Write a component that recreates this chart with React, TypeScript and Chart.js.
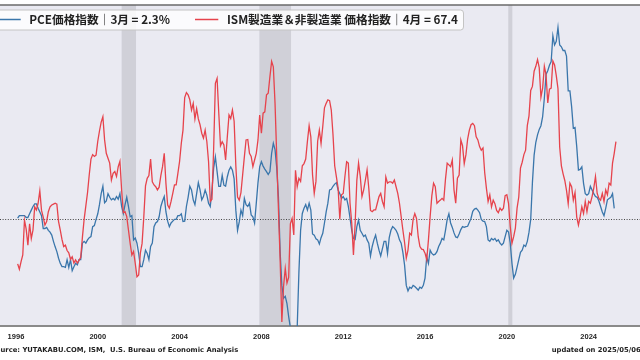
import React, { useEffect, useRef } from "react";
import { Chart, registerables } from "chart.js";

Chart.register(...registerables);

// ---- data (monthly, Jan 1996 onward) ----
const START_YEAR = 1996;

const pceValues = [
  // 1996
  2.03, 2.1, 2.1, 2.1, 2.1, 2.05, 2.05, 2.15, 2.25, 2.35, 2.42, 2.42,
  // 1997
  2.3, 2.2, 2.1, 1.75, 1.75, 1.78, 1.7, 1.65, 1.57, 1.4, 1.25, 1.12,
  // 1998
  0.94, 0.8, 0.71, 0.71, 0.69, 0.9, 0.69, 0.9, 0.6, 0.71, 0.8, 0.76,
  // 1999
  0.9, 0.9, 1.35, 1.4, 1.35, 1.44, 1.5, 1.53, 1.8, 1.83, 2.0, 2.15,
  // 2000
  2.4, 2.7, 2.9, 2.45, 2.5, 2.7, 2.6, 2.53, 2.57, 2.53, 2.62, 2.55,
  // 2001
  2.7, 2.35, 2.16, 2.4, 2.6, 2.35, 2.07, 2.1, 1.44, 1.49, 1.35, 1.07,
  // 2002
  0.71, 0.71, 0.9, 1.16, 1.07, 0.9, 1.26, 1.35, 1.8, 1.9, 1.94, 2.07,
  // 2003
  2.35, 2.5, 2.62, 2.2, 1.95, 1.8, 1.9, 1.95, 2.0, 2.0, 2.1, 2.1,
  // 2004
  2.15, 1.94, 1.95, 2.35, 2.6, 2.9, 2.8, 2.53, 2.4, 2.7, 3.0, 2.8,
  // 2005
  2.53, 2.62, 2.8, 2.66, 2.44, 2.35, 2.8, 3.4, 3.7, 3.3, 2.9, 2.9,
  // 2006
  3.2, 2.93, 2.9, 3.16, 3.34, 3.43, 3.34, 3.1, 2.25, 1.7, 1.93, 2.25,
  // 2007
  2.1, 2.57, 2.4, 2.35, 2.44, 2.12, 2.07, 1.9, 2.44, 3.0, 3.43, 3.57,
  // 2008
  3.45, 3.37, 3.3, 3.22, 3.3, 3.8, 4.07, 3.9, 3.4, 2.6, 1.1, 0.2,
  // 2009
  -0.15, -0.1, -0.3, -0.65, -0.95, -1.3, -1.4, -1.2, -0.95, 0.55, 1.7, 2.16,
  // 2010
  2.3, 2.4, 2.25, 2.44, 2.25, 1.6, 1.57, 1.47, 1.44, 1.33, 1.5, 1.62,
  // 2011
  1.9, 2.2, 2.44, 2.8, 2.82, 2.9, 2.96, 3.0, 2.8, 2.7, 2.57, 2.62,
  // 2012
  2.53, 2.57, 2.35, 2.03, 1.7, 1.48, 1.45, 1.8, 1.98, 1.7, 1.62, 1.53,
  // 2013
  1.57, 1.44, 1.35, 1.0, 1.26, 1.44, 1.57, 1.35, 1.16, 1.0, 1.2, 1.4,
  // 2014
  1.4, 1.07, 1.5, 1.7, 1.8, 1.76, 1.7, 1.6, 1.44, 1.35, 1.1, 0.75,
  // 2015
  0.2, 0.05, 0.15, 0.12, 0.2, 0.17, 0.12, 0.07, 0.15, 0.12, 0.2, 0.4,
  // 2016
  0.98, 0.8, 1.16, 1.07, 1.03, 1.05, 1.12, 1.26, 1.35, 1.48, 1.44, 1.7,
  // 2017
  2.0, 2.15, 1.9, 1.78, 1.63, 1.52, 1.5, 1.6, 1.72, 1.8, 1.78, 1.8,
  // 2018
  1.81, 1.92, 2.03, 2.22, 2.28, 2.3, 2.25, 2.18, 2.0, 1.95, 1.94, 1.8,
  // 2019
  1.44, 1.4, 1.48, 1.44, 1.48, 1.4, 1.44, 1.35, 1.3, 1.35, 1.53, 1.7,
  // 2020
  1.65, 1.35, 0.8, 0.4, 0.5, 0.7, 0.9, 1.1, 1.16, 1.3, 1.26, 1.4,
  // 2021
  1.65, 2.0, 3.0, 3.75, 4.1, 4.3, 4.45, 4.55, 4.8, 5.3, 5.95, 6.05,
  // 2022
  6.2, 6.3, 7.0, 6.75, 6.85, 7.23, 6.75, 6.7, 6.6, 6.6, 6.45, 5.5,
  // 2023
  5.5, 5.07, 4.48, 4.5, 3.98, 3.34, 3.36, 3.43, 2.98, 2.7, 2.66, 2.7,
  // 2024
  2.9, 2.8, 2.7, 2.62, 2.6, 2.5, 2.35, 2.2, 2.1, 2.3, 2.53, 2.57,
  // 2025
  2.6, 2.7, 2.3,
];

const ismValues = [
  // 1996
  40.0, 38.8, 40.5, 42.0, 49.8, 47.8, 44.2, 49.0, 45.7, 47.6, 52.8, 52.1,
  // 1997
  53.6, 56.4, 52.0, 50.5, 48.7, 49.5, 51.7, 52.8, 53.2, 53.4, 53.6, 53.4,
  // 1998
  49.5, 47.6, 45.5, 43.9, 44.2, 43.0, 42.5, 41.0, 41.6, 40.2, 40.9, 40.2,
  // 1999
  40.8, 41.5, 46.0, 50.0, 53.0, 56.0, 60.0, 63.5, 64.5, 64.1, 64.4, 67.5,
  // 2000
  69.8, 71.8, 73.0, 67.8, 64.8, 63.7, 62.6, 58.8, 60.3, 60.7, 59.6, 61.8,
  // 2001
  63.0, 56.5, 51.5, 51.7, 50.6, 47.6, 44.6, 42.0, 42.8, 40.1, 37.1, 37.5,
  // 2002
  42.5, 44.6, 50.5, 57.5, 59.2, 59.8, 63.5, 58.4, 57.7, 57.3, 56.6, 57.2,
  // 2003
  59.8, 61.8, 64.8, 58.0, 53.2, 52.5, 54.0, 55.8, 57.7, 57.7, 60.3, 63.0,
  // 2004
  67.0, 70.0, 77.3, 78.4, 77.9, 76.8, 74.5, 76.0, 72.5, 74.8, 72.5, 71.2,
  // 2005
  69.3, 68.2, 70.0, 67.4, 62.9, 54.0, 54.5, 66.0, 80.5, 81.6, 73.8, 66.5,
  // 2006
  67.4, 66.7, 63.3, 68.5, 73.4, 72.6, 74.5, 72.0, 62.0, 55.0, 54.3, 56.0,
  // 2007
  60.0, 64.0, 67.8, 67.9, 64.8, 64.1, 61.8, 63.3, 64.8, 67.8, 73.4, 69.3,
  // 2008
  73.8, 74.1, 77.9, 78.3, 82.0, 85.4, 84.2, 76.0, 64.1, 52.1, 40.9, 27.0,
  // 2009
  35.0, 39.0, 35.7, 37.0, 49.0, 50.2, 46.5, 61.0, 57.3, 59.2, 58.5, 62.0,
  // 2010
  62.5, 63.5, 67.5, 71.0, 68.5, 60.0, 55.8, 58.5, 67.5, 70.0, 67.0, 70.8,
  // 2011
  75.0, 76.0, 76.8, 76.6, 74.5, 69.0, 62.0, 59.5, 57.0, 50.0, 55.5, 55.8,
  // 2012
  59.6, 62.9, 62.6, 53.6, 49.1, 42.0, 49.0, 58.8, 62.6, 59.6, 55.1, 56.6,
  // 2013
  58.8, 61.1, 57.0, 52.0, 51.7, 52.1, 52.1, 53.6, 55.1, 55.8, 54.0, 52.8,
  // 2014
  59.5, 58.1, 58.4, 58.4, 58.1, 58.8, 57.3, 55.8, 53.6, 50.6, 47.6, 44.8,
  // 2015
  41.3, 43.1, 46.9, 46.5, 50.0, 51.3, 50.2, 46.1, 43.9, 43.3, 43.2, 42.4,
  // 2016
  40.9, 45.4, 50.6, 55.3, 58.1, 57.3, 53.6, 54.0, 54.3, 54.7, 54.3, 59.0,
  // 2017
  62.6, 62.2, 61.8, 63.3, 56.6, 53.6, 59.2, 59.9, 67.8, 66.5, 62.5, 64.5,
  // 2018
  68.0, 70.0, 71.2, 71.5, 71.0, 68.5, 67.8, 66.3, 65.5, 66.0, 60.5, 57.0,
  // 2019
  54.0, 55.5, 52.8, 54.3, 53.5, 52.0, 51.5, 52.5, 52.0, 52.5, 55.3, 55.5,
  // 2020
  53.5, 48.4, 44.6, 46.1, 48.0, 52.5, 55.0, 61.5, 62.8, 64.5, 65.5, 71.0,
  // 2021
  73.2, 78.9, 79.8, 83.2, 84.3, 85.8, 84.0, 77.4, 79.4, 84.3, 82.4, 76.1,
  // 2022
  79.2, 79.4, 85.5, 84.6, 82.2, 79.3, 66.2, 62.0, 60.2, 58.7, 56.5, 53.5,
  // 2023
  58.1, 57.3, 54.3, 56.0, 50.5, 48.7, 50.6, 52.8, 51.3, 54.0, 51.7, 54.0,
  // 2024
  53.6, 55.1, 57.0, 59.6, 55.8, 54.7, 54.3, 55.8, 54.0, 56.6, 55.5, 58.1,
  // 2025
  57.7, 62.6, 64.8, 67.4,
];

const tickYears = [1996, 2000, 2004, 2008, 2012, 2016, 2020, 2024];
const recessionStarts = [2001.167, 2007.9, 2020.07];
const recessionEnds = [2001.87, 2009.45, 2020.27];
const referenceLevelPce = 2; // dotted line (PCE 2% = ISM 50)

const pceLabel = "PCE価格指数｜3月 = 2.3%";
const ismLabel = "ISM製造業＆非製造業 価格指数｜4月 = 67.4";
const sourceText = "Source: YUTAKABU.COM, ISM,  U.S. Bureau of Economic Analysis";
const updatedText = "updated on 2025/05/06";

const BLUE = "#3a76ab";
const RED = "#e6434c";

const toPoints = (vals: number[]) =>
  vals.map((v, i) => ({ x: START_YEAR + (i + 1) / 12, y: v }));

const decorPlugin = {
  id: "decor",
  beforeDraw(chart: any) {
    const { ctx, chartArea: a, width, height } = chart;
    ctx.save();
    ctx.fillStyle = "#ffffff";
    ctx.fillRect(0, 0, width, height);
    ctx.fillStyle = "#EAEAF2";
    ctx.fillRect(a.left, a.top, a.right - a.left, a.bottom - a.top);
    const xs = chart.scales.x;
    ctx.fillStyle = "#d0d0d8";
    recessionStarts.forEach((s, k) => {
      const x0 = xs.getPixelForValue(s);
      const x1 = xs.getPixelForValue(recessionEnds[k]);
      ctx.fillRect(x0, a.top, x1 - x0, a.bottom - a.top);
    });
    const yRef = Math.round(chart.scales.y.getPixelForValue(referenceLevelPce)) + 0.5;
    ctx.strokeStyle = "#444444";
    ctx.lineWidth = 1;
    ctx.setLineDash([1, 1.6]);
    ctx.beginPath();
    ctx.moveTo(a.left, yRef);
    ctx.lineTo(a.right, yRef);
    ctx.stroke();
    ctx.setLineDash([]);
    ctx.strokeStyle = "#6a6a6a";
    ctx.lineWidth = 1.3;
    ctx.beginPath();
    ctx.moveTo(a.left, a.top);
    ctx.lineTo(a.right, a.top);
    ctx.stroke();
    ctx.restore();
  },
  afterDraw(chart: any) {
    const { ctx } = chart;
    ctx.save();
    // legend box
    const bx = -20, by = 10, bw = 483.5, bh = 20, r = 3;
    ctx.beginPath();
    ctx.moveTo(bx + r, by);
    ctx.lineTo(bx + bw - r, by);
    ctx.quadraticCurveTo(bx + bw, by, bx + bw, by + r);
    ctx.lineTo(bx + bw, by + bh - r);
    ctx.quadraticCurveTo(bx + bw, by + bh, bx + bw - r, by + bh);
    ctx.lineTo(bx + r, by + bh);
    ctx.quadraticCurveTo(bx, by + bh, bx, by + bh - r);
    ctx.lineTo(bx, by + r);
    ctx.quadraticCurveTo(bx, by, bx + r, by);
    ctx.closePath();
    ctx.fillStyle = "rgba(255,255,255,0.82)";
    ctx.fill();
    ctx.strokeStyle = "#c4c4c4";
    ctx.lineWidth = 1;
    ctx.stroke();

    const ly = 19.5;
    ctx.lineWidth = 1.5;
    ctx.strokeStyle = BLUE;
    ctx.beginPath();
    ctx.moveTo(-8, ly);
    ctx.lineTo(20.7, ly);
    ctx.stroke();
    ctx.strokeStyle = RED;
    ctx.beginPath();
    ctx.moveTo(195, ly);
    ctx.lineTo(218.3, ly);
    ctx.stroke();

    ctx.fillStyle = "#222222";
    ctx.textBaseline = "middle";
    ctx.textAlign = "left";
    ctx.font = 'bold 11.7px "Noto Sans CJK JP", "Noto Sans", sans-serif';
    ctx.fillText(pceLabel, 29.3, 20);
    ctx.fillText(ismLabel, 227, 20);

    // footer
    ctx.font = 'bold 6.8px "DejaVu Sans"';
    ctx.fillStyle = "#1e1e1e";
    const cut = ctx.measureText("So").width;
    ctx.fillText(sourceText, 0.5 - cut, 350.7);
    ctx.fillText(updatedText, 551.7, 350.7);
    ctx.restore();
  },
};

export default function App() {
  const canvasRef = useRef<HTMLCanvasElement | null>(null);

  useEffect(() => {
    document.body.style.margin = "0";
    const canvas = canvasRef.current;
    if (!canvas) return;
    const chart = new Chart(canvas, {
      type: "line",
      data: {
        datasets: [
          {
            label: pceLabel,
            data: toPoints(pceValues),
            borderColor: BLUE,
            backgroundColor: BLUE,
            borderWidth: 1.3,
            pointRadius: 0,
            tension: 0,
            yAxisID: "y",
            order: 2,
          },
          {
            label: ismLabel,
            data: toPoints(ismValues),
            borderColor: RED,
            backgroundColor: RED,
            borderWidth: 1.3,
            pointRadius: 0,
            tension: 0,
            yAxisID: "y1",
            order: 1,
          },
        ],
      },
      options: {
        animation: false,
        responsive: false,
        devicePixelRatio: 1,
        parsing: false,
        layout: { padding: { top: 5, left: 0, right: 0, bottom: 0 } },
        plugins: {
          legend: { display: false },
          tooltip: { enabled: false },
        },
        scales: {
          x: {
            type: "linear",
            min: 1995.22,
            max: 2026.51,
            afterBuildTicks: (s: any) => {
              s.ticks = tickYears.map((v) => ({ value: v }));
            },
            afterFit: (s: any) => {
              s.height = 34;
            },
            grid: { display: false, drawTicks: false },
            border: { display: true, color: "#8a8a8a", width: 2 },
            ticks: {
              autoSkip: false,
              maxRotation: 0,
              padding: 6,
              color: "#262626",
              font: {
                family: '"Liberation Sans", Arial, sans-serif',
                size: 7.5,
                weight: "bold",
              },
              callback: (v: any) => String(v),
            },
          },
          y: { display: false, min: -0.907, max: 7.84 },
          y1: { display: false, min: 26.08, max: 98.05 },
        },
      },
      plugins: [decorPlugin],
    } as any);
    return () => chart.destroy();
  }, []);

  return (
    <div style={{ position: "fixed", left: 0, top: 0, width: 640, height: 360 }}>
      <canvas ref={canvasRef} width={640} height={360} style={{ display: "block" }} />
    </div>
  );
}
